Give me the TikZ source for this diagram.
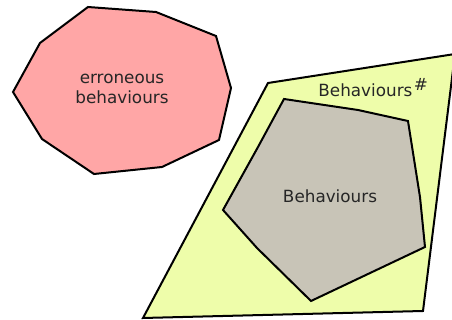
\documentclass[tikz,border=0pt]{standalone}
\usepackage{fontspec}
\setmainfont{DejaVu Sans}
\definecolor{errpink}{RGB}{255,166,166}
\definecolor{abslime}{RGB}{238,253,170}
\definecolor{concgray}{RGB}{200,196,183}
\tikzset{
	region/.style = {draw = black, line width = 1pt, line join = miter},
	regionlabel/.style = {align = center, text = black!85, font = \fontsize{8.4}{10}\selectfont}
}
\begin{document}
\begin{tikzpicture}[x = 0.5pt, y = -0.5pt]
	\useasboundingbox (0,0) rectangle (452,320);
	% erroneous behaviours
	\draw [region, fill = errpink] (88,7) -- (156,12) -- (216,36) -- (231,88) -- (219,140)
		-- (162,167) -- (94,174) -- (42,139) -- (13,92) -- (40,43) -- cycle;
	\node [regionlabel] (erroneous) at (122,89) {erroneous\\behaviours};
	% abstract behaviours
	\draw [region, fill = abslime] (268,83) -- (455,54) -- (423,311) -- (143,318) -- cycle;
	\node [regionlabel, anchor = base west, inner sep = 0pt] (abstract) at (318,97)
		{Behaviours\kern0.8pt\raisebox{3pt}{\#}};
	% concrete behaviours
	\draw [region, fill = concgray] (284,99) -- (358,110) -- (408,121) -- (420,197) -- (425,247)
		-- (311,301) -- (257,248) -- (223,210) -- (258,147) -- cycle;
	\node [regionlabel] (concrete) at (330,196) {Behaviours};
\end{tikzpicture}
\end{document}
